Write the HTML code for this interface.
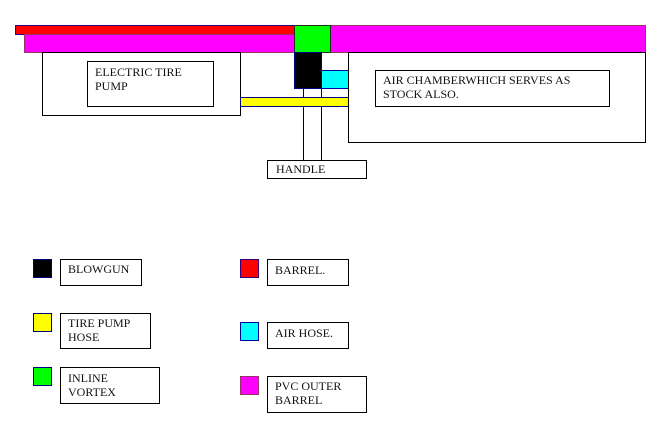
<!DOCTYPE html>
<html><head><meta charset="utf-8"><style>
html,body{margin:0;padding:0;background:#fff;}
body{width:665px;height:443px;position:relative;overflow:hidden;font-family:"Liberation Serif","Times New Roman",serif;font-size:12px;line-height:14px;color:#111;}
div{position:absolute;box-sizing:border-box;}
.b{border:1px solid #000;background:#fff;}
.t{white-space:nowrap;}
</style></head><body>
<!-- top bars -->
<div style="left:15px;top:25px;width:280px;height:10px;background:#ff0000;border:1px solid #330080;"></div>
<div style="left:24px;top:34px;width:271px;height:19px;background:#ff00ff;border:1px solid #993366;"></div>
<div style="left:330px;top:25px;width:316px;height:28px;background:#ff00ff;border:1px solid #993366;"></div>
<div style="left:294px;top:25px;width:37px;height:28px;background:#00ff00;border:1px solid #1a331a;"></div>

<!-- electric tire pump -->
<div class="b" style="left:42px;top:52px;width:199px;height:64px;"></div>
<div class="b t" style="left:87px;top:61px;width:127px;height:46px;padding:3px 0 0 7px;">ELECTRIC TIRE<br>PUMP</div>

<!-- handle lines -->
<div style="left:303px;top:88px;width:1px;height:73px;background:#000;"></div>
<div style="left:321px;top:88px;width:1px;height:73px;background:#000;"></div>

<!-- blowgun, air hose, yellow hose -->
<div style="left:294px;top:52px;width:28px;height:37px;background:#000;border:1px solid #000080;"></div>
<div style="left:321px;top:70px;width:28px;height:19px;background:#00ffff;border:1px solid #0000a0;"></div>
<div style="left:240px;top:97px;width:109px;height:10px;background:#ffff00;border:1px solid #000080;"></div>

<!-- air chamber -->
<div class="b" style="left:348px;top:52px;width:298px;height:91px;"></div>
<div class="b t" style="left:375px;top:70px;width:235px;height:37px;padding:2px 0 0 7px;">AIR CHAMBERWHICH SERVES AS<br>STOCK ALSO.</div>

<!-- handle -->
<div class="b t" style="left:267px;top:160px;width:100px;height:19px;padding:1px 0 0 8px;">HANDLE</div>

<!-- legend left -->
<div style="left:33px;top:259px;width:19px;height:19px;background:#000;border:1px solid #000080;"></div>
<div class="b t" style="left:60px;top:259px;width:82px;height:27px;padding:2px 0 0 7px;">BLOWGUN</div>

<div style="left:33px;top:313px;width:19px;height:19px;background:#ffff00;border:1px solid #000080;"></div>
<div class="b t" style="left:60px;top:313px;width:91px;height:36px;padding:2px 0 0 7px;">TIRE PUMP<br>HOSE</div>

<div style="left:33px;top:367px;width:19px;height:19px;background:#00ff00;border:1px solid #000080;"></div>
<div class="b t" style="left:60px;top:367px;width:100px;height:37px;padding:3px 0 0 7px;">INLINE<br>VORTEX</div>

<!-- legend right -->
<div style="left:240px;top:259px;width:19px;height:19px;background:#ff0000;border:1px solid #330080;"></div>
<div class="b t" style="left:267px;top:259px;width:82px;height:27px;padding:3px 0 0 7px;">BARREL.</div>

<div style="left:240px;top:322px;width:19px;height:19px;background:#00ffff;border:1px solid #0000a0;"></div>
<div class="b t" style="left:267px;top:322px;width:82px;height:27px;padding:3px 0 0 7px;">AIR HOSE.</div>

<div style="left:240px;top:376px;width:19px;height:19px;background:#ff00ff;border:1px solid #993366;"></div>
<div class="b t" style="left:267px;top:376px;width:100px;height:37px;padding:2px 0 0 7px;">PVC OUTER<br>BARREL</div>
</body></html>
